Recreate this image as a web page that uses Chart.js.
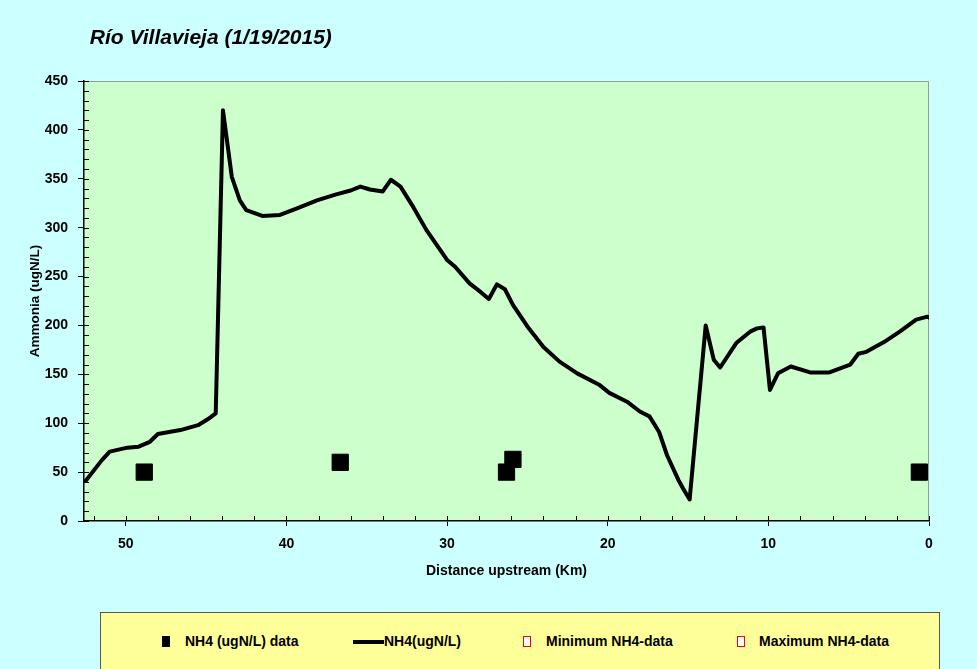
<!DOCTYPE html>
<html lang="es">
<head>
  <meta charset="UTF-8" />
  <title>Río Villavieja (1/19/2015)</title>
  <script src="https://cdn.jsdelivr.net/npm/chart.js"></script>
  <style>
    body {
      margin: 0;
      background: #ccffff;
      font-family: 'Liberation Sans', Arial, sans-serif;
    }
    .chart-container {
      position: absolute;
      left: 0;
      top: 0;
      width: 977px;
      height: 600px;
    }
    #legend {
      position: absolute;
      left: 100px;
      top: 612px;
      width: 838px;
      height: 70px;
      background: #ffff99;
      border: 1px solid #555;
      font-size: 14px;
      line-height: 16px;
      font-weight: bold;
      color: #000;
    }
    #legend span { position: absolute; }
    #legend .txt { top: 20px; white-space: nowrap; }
    .sq { top: 23px; width: 8px; height: 11px; background: #000; }
    .ln { top: 27px; width: 31px; height: 4px; background: #000; }
    .rsq { top: 23px; width: 6px; height: 9px; border: 1.5px solid #ff0000; background: #fff; }
  </style>
</head>
<body>
  <div class="chart-container">
    <canvas id="nh4Chart"></canvas>
  </div>

  <div id="legend">
    <span class="sq" style="left:61px"></span><span class="txt" style="left:84px">NH4 (ugN/L) data</span>
    <span class="ln" style="left:252px"></span><span class="txt" style="left:283px">NH4(ugN/L)</span>
    <span class="rsq" style="left:422px"></span><span class="txt" style="left:445px">Minimum NH4-data</span>
    <span class="rsq" style="left:636px"></span><span class="txt" style="left:658px">Maximum NH4-data</span>
  </div>

  <script>
    // model run (distance upstream in km, ammonia in ugN/L)
    const distanceKm = [52.5, 51.5, 51.0, 49.9, 49.2, 48.5, 48.0, 46.6, 45.5, 44.9, 44.4,
      43.95, 43.4, 42.9, 42.5, 41.5, 40.4, 39.3, 38.1, 36.9, 36.0, 35.4, 34.8, 34.0, 33.5,
      32.9, 32.1, 31.3, 30.0, 29.5, 28.6, 27.9, 27.4, 26.9, 26.4, 25.9, 25.0, 24.0, 23.0,
      21.9, 20.5, 19.9, 18.8, 18.0, 17.4, 16.8, 16.3, 15.6, 15.3, 14.9, 13.9, 13.4, 13.0,
      12.0, 11.1, 10.7, 10.3, 9.9, 9.4, 8.6, 7.4, 6.2, 4.9, 4.4, 3.9, 2.8, 1.8, 0.8, 0.1, 0];
    const nh4Model = [41, 62, 71, 75, 76, 81, 89, 93, 98, 104, 110,
      420, 352, 328, 318, 312, 313, 320, 328, 334, 338, 342, 339, 337, 349,
      342, 321, 298, 267, 260, 243, 234, 227, 242, 237, 221, 199, 178, 163,
      151, 139, 131, 122, 112, 107, 91, 67, 42, 33, 22, 200, 165, 157,
      182, 194, 197, 198, 134, 151, 158, 152, 152, 160, 171, 173, 183, 194, 206, 209, 208];

    // measured samples
    const sampleKm = [48.85, 36.65, 26.3, 25.9, 0.6];
    const sampleNH4 = [50, 60, 50, 63, 50];

    const FONT = "'Liberation Sans', Arial, sans-serif";

    function pairs(xs, ys) {
      return xs.map((x, i) => ({ x: x, y: ys[i] }));
    }

    function everyStep(min, max, step) {
      const out = [];
      for (let v = min; v <= max; v += step) out.push({ value: v });
      return out;
    }

    // green plot area with a thin grey frame on top and right
    const plotBackground = {
      id: 'plotBackground',
      beforeDraw(chart) {
        const { ctx, chartArea: a } = chart;
        ctx.save();
        ctx.fillStyle = '#ccffcc';
        ctx.fillRect(a.left, a.top, a.right - a.left, a.bottom - a.top);
        ctx.strokeStyle = '#999';
        ctx.lineWidth = 1;
        ctx.beginPath();
        ctx.moveTo(a.left, a.top + 0.5);
        ctx.lineTo(a.right - 0.5, a.top + 0.5);
        ctx.lineTo(a.right - 0.5, a.bottom);
        ctx.stroke();
        ctx.restore();
      }
    };

    // small tick marks pointing into the plot
    const innerTicks = {
      id: 'innerTicks',
      afterDraw(chart) {
        const { ctx, chartArea: a, scales } = chart;
        ctx.save();
        ctx.strokeStyle = '#000';
        ctx.lineWidth = 1;
        ctx.beginPath();
        scales.x.ticks.forEach(t => {
          const px = Math.round(scales.x.getPixelForValue(t.value)) + 0.5;
          ctx.moveTo(px, a.bottom);
          ctx.lineTo(px, a.bottom - 5);
        });
        scales.y.ticks.forEach(t => {
          const py = Math.round(scales.y.getPixelForValue(t.value)) + 0.5;
          ctx.moveTo(a.left, py);
          ctx.lineTo(a.left + 5, py);
        });
        ctx.stroke();
        ctx.restore();
      }
    };

    new Chart(document.getElementById('nh4Chart'), {
      type: 'line',
      data: {
        datasets: [
          {
            label: 'NH4 (ugN/L) data',
            data: pairs(sampleKm, sampleNH4),
            showLine: false,
            pointStyle: 'rect',
            pointRadius: 11.5,
            pointBackgroundColor: '#000',
            pointBorderColor: '#000',
            pointBorderWidth: 1,
            order: 0
          },
          {
            label: 'NH4(ugN/L)',
            data: pairs(distanceKm, nh4Model),
            borderColor: '#000',
            borderWidth: 4,
            borderJoinStyle: 'round',
            borderCapStyle: 'round',
            pointRadius: 0,
            tension: 0,
            fill: false,
            order: 1
          }
        ]
      },
      options: {
        responsive: true,
        maintainAspectRatio: false,
        animation: false,
        layout: { padding: { left: 0, right: 48, top: 0, bottom: 0 } },
        plugins: {
          legend: { display: false },
          tooltip: { enabled: false },
          title: {
            display: true,
            text: ' Río Villavieja (1/19/2015)',
            align: 'start',
            fullSize: false,
            color: '#000',
            font: { family: FONT, size: 21, style: 'italic', weight: 'bold' },
            padding: { top: 26, bottom: 29.8 }
          }
        },
        scales: {
          x: {
            type: 'linear',
            reverse: true,
            min: 0,
            max: 52.6,
            afterBuildTicks: s => { s.ticks = everyStep(0, 52, 2); },
            afterFit: s => { s.height = 79; },
            ticks: {
              autoSkip: false,
              maxRotation: 0,
              padding: 10,
              color: '#000',
              font: { family: FONT, size: 14, weight: 'bold' },
              callback: v => (v % 10 === 0 ? v : '')
            },
            grid: {
              drawOnChartArea: false,
              tickLength: 5,
              color: c => (c.tick && c.tick.value % 10 === 0 ? '#000' : 'rgba(0,0,0,0)')
            },
            border: { display: true, color: '#000', width: 1.5 },
            title: {
              display: true,
              text: 'Distance upstream (Km)',
              color: '#000',
              font: { family: FONT, size: 14, weight: 'bold' },
              padding: { top: 0, bottom: 20.5 }
            }
          },
          y: {
            min: 0,
            max: 450,
            afterBuildTicks: s => { s.ticks = everyStep(0, 450, 10); },
            afterFit: s => { s.width = 84; },
            ticks: {
              autoSkip: false,
              padding: 10,
              color: '#000',
              font: { family: FONT, size: 14, weight: 'bold' },
              callback: v => (v % 50 === 0 ? v : '')
            },
            grid: {
              drawOnChartArea: false,
              tickLength: 6,
              color: c => (c.tick && c.tick.value % 50 === 0 ? '#000' : 'rgba(0,0,0,0)')
            },
            border: { display: true, color: '#000', width: 1.5 },
            title: {
              display: true,
              text: 'Ammonia (ugN/L)',
              color: '#000',
              font: { family: FONT, size: 13.5, weight: 'bold' },
              padding: { top: 27, bottom: 0 }
            }
          }
        }
      },
      plugins: [plotBackground, innerTicks]
    });
  </script>
</body>
</html>
